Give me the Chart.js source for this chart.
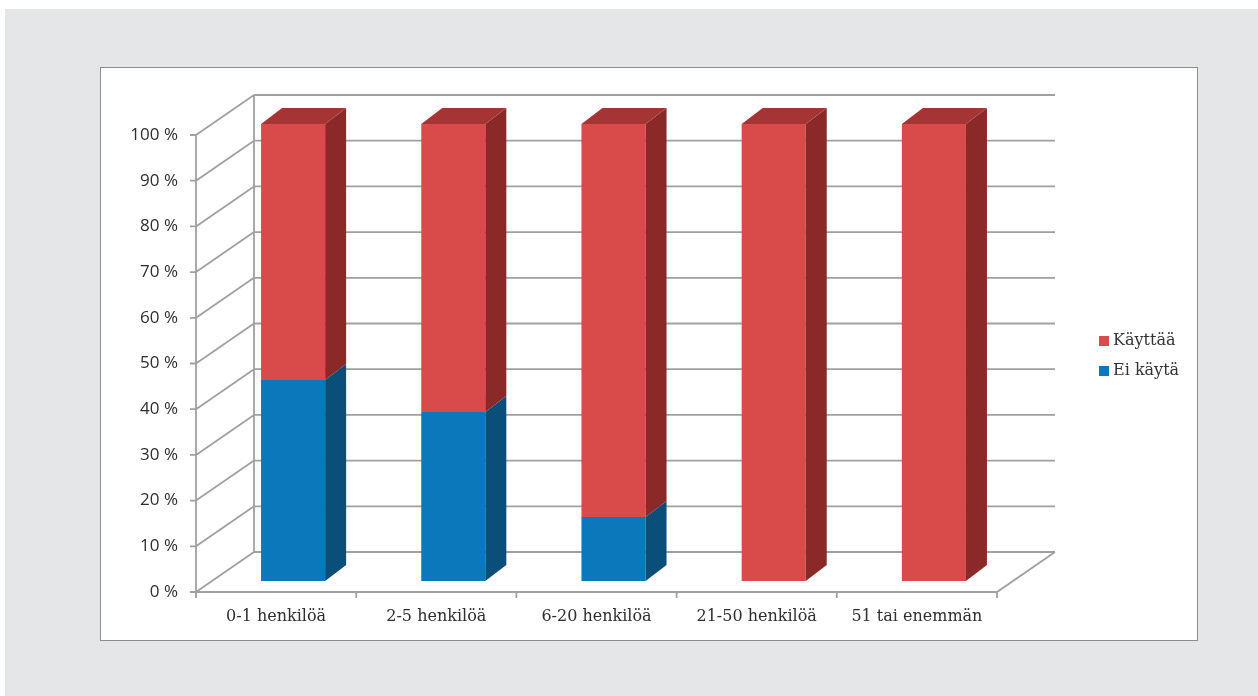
<!DOCTYPE html>
<html>
<head>
<meta charset="utf-8">
<script src="https://cdn.jsdelivr.net/npm/chart.js@4/dist/chart.umd.min.js"></script>
<style>
  html, body { margin: 0; padding: 0; background: #fff; width: 1258px; height: 696px; overflow: hidden; }
  #bg { position: absolute; left: 5px; top: 9px; width: 1253px; height: 687px; background: #e5e6e8; }
  #box { position: absolute; left: 100px; top: 67px; width: 1096px; height: 572px; background: #fff; border: 1.5px solid #8c8c8c; }
  #wrap { position: absolute; left: 0; top: 0; width: 1258px; height: 696px; }
  #legend { position: absolute; left: 1099px; top: 332px; font: 16px "DejaVu Serif", serif; color: #333; }
  #legend div { height: 30px; line-height: 16px; white-space: nowrap; }
  #legend span.sw { display: inline-block; width: 10px; height: 10px; margin-right: 4px; vertical-align: -1px; }
</style>
</head>
<body>
<div id="bg"></div>
<div id="box"></div>
<div id="wrap"><canvas id="chart" width="1258" height="696"></canvas></div>
<div id="legend"></div>
<script>
const categories = ["0-1 henkilöä", "2-5 henkilöä", "6-20 henkilöä", "21-50 henkilöä", "51 tai enemmän"];
const eiKayta = [44, 37, 14, 0, 0];
const kayttaa = [56, 63, 86, 100, 100];
const yTicks = [0, 10, 20, 30, 40, 50, 60, 70, 80, 90, 100];

const colors = {
  red: "#d94b4b", redSide: "#8b2828", redTop: "#a53535",
  blue: "#0a78bb", blueSide: "#0a4e7a",
  grid: "#a0a0a0"
};

// depth of the "3D" box and of the bars
const depth = { dx: 58, dy: -40 };
const barShift = { dx: 17, dy: -11 };
const barDepth = { dx: 21, dy: -16 };

const cube3d = {
  id: "cube3d",
  beforeDatasetsDraw(chart) {
    const { ctx, chartArea: a, scales: { x, y } } = chart;
    ctx.save();
    ctx.strokeStyle = colors.grid;
    ctx.lineWidth = 1.8;
    ctx.beginPath();
    yTicks.forEach(v => {
      const py = y.getPixelForValue(v);
      // back wall
      ctx.moveTo(a.left + depth.dx, py + depth.dy);
      ctx.lineTo(a.right + depth.dx, py + depth.dy);
      // side wall
      ctx.moveTo(a.left, py);
      ctx.lineTo(a.left + depth.dx, py + depth.dy);
      // tick mark
      ctx.moveTo(a.left - 6, py);
      ctx.lineTo(a.left, py);
    });
    ctx.moveTo(a.left, a.top);
    ctx.lineTo(a.left, a.bottom);
    ctx.moveTo(a.left + depth.dx, a.top + depth.dy);
    ctx.lineTo(a.left + depth.dx, a.bottom + depth.dy);
    // floor
    ctx.moveTo(a.left, a.bottom);
    ctx.lineTo(a.right, a.bottom);
    ctx.lineTo(a.right + depth.dx, a.bottom + depth.dy);
    const catW = (a.right - a.left) / categories.length;
    for (let i = 0; i <= categories.length; i++) {
      ctx.moveTo(a.left + i * catW, a.bottom);
      ctx.lineTo(a.left + i * catW, a.bottom + 6);
    }
    ctx.stroke();
    ctx.restore();

    ctx.save();
    ctx.translate(barShift.dx, barShift.dy);
  },
  afterDatasetsDraw(chart) {
    const { ctx } = chart;
    const n = chart.data.datasets.length;
    chart.data.datasets.forEach((ds, di) => {
      const meta = chart.getDatasetMeta(di);
      meta.data.forEach((bar, i) => {
        const { x, y, base, width } = bar.getProps(["x", "y", "base", "width"], true);
        if (Math.abs(base - y) < 0.5) return;
        const r = x + width / 2, l = x - width / 2;
        ctx.fillStyle = ds.sideColor;
        ctx.beginPath();
        ctx.moveTo(r, y);
        ctx.lineTo(r + barDepth.dx, y + barDepth.dy);
        ctx.lineTo(r + barDepth.dx, base + barDepth.dy);
        ctx.lineTo(r, base);
        ctx.closePath();
        ctx.fill();
        if (di === n - 1) {
          ctx.fillStyle = ds.topColor;
          ctx.beginPath();
          ctx.moveTo(l, y);
          ctx.lineTo(l + barDepth.dx, y + barDepth.dy);
          ctx.lineTo(r + barDepth.dx, y + barDepth.dy);
          ctx.lineTo(r, y);
          ctx.closePath();
          ctx.fill();
        }
      });
    });
    ctx.restore();
  }
};

new Chart(document.getElementById("chart"), {
  type: "bar",
  data: {
    labels: categories,
    datasets: [
      { label: "Ei käytä", data: eiKayta, backgroundColor: colors.blue, sideColor: colors.blueSide, topColor: colors.blueSide },
      { label: "Käyttää", data: kayttaa, backgroundColor: colors.red, sideColor: colors.redSide, topColor: colors.redTop }
    ]
  },
  options: {
    responsive: false,
    animation: false,
    layout: { padding: { left: 0, top: 135, right: 261, bottom: 0 } },
    datasets: { bar: { barPercentage: 0.4, categoryPercentage: 1, borderWidth: 0 } },
    plugins: { legend: { display: false }, tooltip: { enabled: false } },
    scales: {
      x: {
        stacked: true,
        grid: { display: false, drawTicks: false },
        border: { display: false },
        ticks: { color: "#2e2e2e", font: { family: "DejaVu Serif", size: 16 }, padding: 15, maxRotation: 0 },
        afterFit(s) { s.height = 104; }
      },
      y: {
        stacked: true,
        min: 0, max: 100,
        grid: { display: false, drawTicks: false },
        border: { display: false },
        ticks: {
          stepSize: 10, padding: 18, color: "#2e2e2e",
          font: { family: "Open Sans", size: 17 },
          callback: v => v + " %"
        },
        afterFit(s) { s.width = 196; }
      }
    }
  },
  plugins: [cube3d]
});

// legend (reverse order, as in the original)
const legend = document.getElementById("legend");
[["Käyttää", colors.red], ["Ei käytä", colors.blue]].forEach(([t, c]) => {
  const d = document.createElement("div");
  d.innerHTML = `<span class="sw" style="background:${c}"></span>${t}`;
  legend.appendChild(d);
});
</script>
</body>
</html>
